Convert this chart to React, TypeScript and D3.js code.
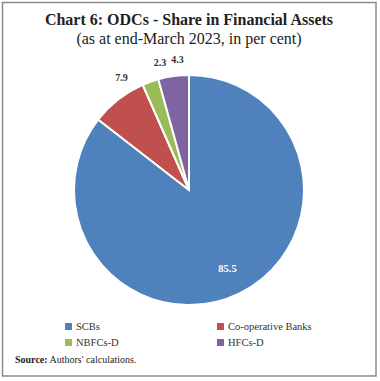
import React from "react";
import * as d3 from "d3";

const categories = ["SCBs", "Co-operative Banks", "NBFCs-D", "HFCs-D"];
const shares = [85.5, 7.9, 2.3, 4.3];
const colors = ["#4F81BD", "#C0504D", "#9BBB59", "#8064A2"];
const title = "Chart 6: ODCs - Share in Financial Assets";
const subtitle = "(as at end-March 2023, in per cent)";

const W = 380;
const H = 381;
const FONT = "'Liberation Serif', 'DejaVu Serif', serif";

export default function App() {
  const cx = 189;
  const cy = 190;
  const r = 115;
  const pie = d3.pie<number>().sort(null).value((d) => d)(shares);
  const arc = d3.arc<d3.PieArcDatum<number>>().innerRadius(0).outerRadius(r);

  const labelFor = (p: d3.PieArcDatum<number>) => {
    const mid = (p.startAngle + p.endAngle) / 2;
    if (p.value > 50) {
      const R = r * 0.76;
      return { x: Math.sin(mid) * R, y: -Math.cos(mid) * R, inside: true };
    }
    const rel = mid > Math.PI ? mid - 2 * Math.PI : mid;
    const deg = (20 * Math.PI) / 180;
    const shift = ((7 * Math.PI) / 180) * Math.min(1, Math.abs(rel) / deg);
    const a = rel - Math.sign(rel) * shift;
    const R = r + 16;
    return { x: Math.sin(a) * R, y: -Math.cos(a) * R, inside: false };
  };

  const legendCols = [65, 217];
  const legendRows = [323, 339];

  return (
    <svg width={W} height={H} style={{ position: "absolute", left: 0, top: 0, background: "#fff" }}>
      <rect x={2.5} y={2.5} width={373.5} height={373.5} fill="#fff" stroke="#8a8a8a" strokeWidth={1.5} />
      <text x={189} y={25} textAnchor="middle" fontFamily={FONT} fontWeight="bold" fontSize={16} fill="#222">
        {title}
      </text>
      <text x={189} y={44} textAnchor="middle" fontFamily={FONT} fontSize={16} fill="#222">
        {subtitle}
      </text>
      <g transform={`translate(${cx},${cy})`}>
        {pie.map((p, i) => (
          <path key={i} d={arc(p) || ""} fill={colors[i]} stroke="#fff" strokeWidth={2} />
        ))}
        {pie.map((p, i) => {
          const l = labelFor(p);
          return (
            <text
              key={"l" + i}
              x={l.x}
              y={l.y}
              dy="0.35em"
              textAnchor="middle"
              fontFamily={FONT}
              fontWeight="bold"
              fontSize={l.inside ? 10.5 : 10}
              fill={l.inside ? "#fff" : "#333"}
            >
              {shares[i].toFixed(1)}
            </text>
          );
        })}
      </g>
      {categories.map((c, i) => {
        const x = legendCols[i % 2];
        const y = legendRows[Math.floor(i / 2)];
        return (
          <g key={"lg" + i}>
            <rect x={x} y={y} width={7} height={7} fill={colors[i]} />
            <text x={x + 11} y={y + 3.5} dy="0.35em" fontFamily={FONT} fontSize={10.5} fill="#333">
              {c}
            </text>
          </g>
        );
      })}
      <text x={15} y={363} fontFamily={FONT} fontSize={10} fill="#222">
        <tspan fontWeight="bold">Source:</tspan>
        <tspan> Authors' calculations.</tspan>
      </text>
    </svg>
  );
}
